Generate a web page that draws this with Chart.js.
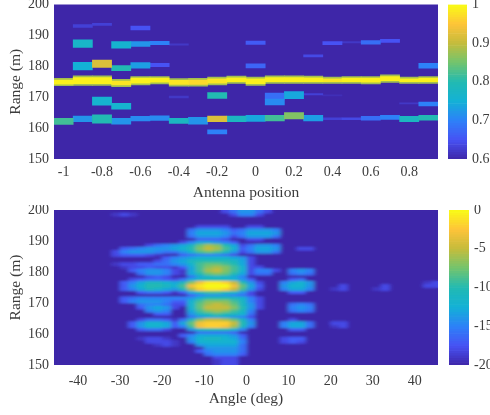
<!DOCTYPE html>
<html>
<head>
<meta charset="utf-8">
<script src="https://cdn.jsdelivr.net/npm/chart.js@4"></script>
<style>
html, body { margin: 0; padding: 0; background: #fff; overflow: hidden; }
#wrap { position: relative; width: 490px; height: 415px; overflow: hidden; }
canvas { position: absolute; filter: blur(0.35px); }
</style>
</head>
<body>
<svg width="0" height="0" style="position:absolute">
  <filter id="smear" x="0" y="0" width="100%" height="100%"><feGaussianBlur stdDeviation="1.9 0.9"/></filter>
</svg>
<div id="wrap">
  <canvas id="topPlot" width="438" height="205" style="left:0;top:0"></canvas>
  <canvas id="topBar" width="42" height="205" style="left:448px;top:0"></canvas>
  <canvas id="bottomPlot" width="438" height="210" style="left:0;top:205px"></canvas>
  <canvas id="bottomBar" width="41" height="210" style="left:449px;top:205px"></canvas>
</div>
<script>
// top panel, one entry per antenna position
const antennaPositions = [-1, -0.9, -0.8, -0.7, -0.6, -0.5, -0.4, -0.3, -0.2, -0.1, 0, 0.1, 0.2, 0.3, 0.4, 0.5, 0.6, 0.7, 0.8, 0.9];
const mainBandLow = [173.7, 173.8, 173.8, 173.4, 174, 174.3, 173.6, 173.6, 174, 174.5, 173.8, 174.5, 174.5, 174.5, 174.5, 174.5, 174.3, 174.8, 174.5, 174.5];
const mainBandHigh = [176.1, 176.9, 176.9, 175.8, 176.7, 176.7, 176, 176.1, 176.5, 176.8, 176.5, 176.9, 176.9, 176.8, 176.5, 176.7, 176.7, 177.2, 176.5, 176.7];
const mainBandValue = [0.99, 0.99, 0.99, 0.98, 0.99, 0.99, 0.98, 0.97, 0.98, 0.99, 0.99, 0.99, 0.99, 0.99, 0.98, 0.99, 0.99, 0.99, 0.99, 0.99];
const lowerBandLow = [161.2, 162.1, 161.6, 161.3, 162.3, 162.5, 161.5, 161.3, 162.1, 162.1, 162.2, 162.3, 163, 162.3, 162.7, 162.7, 162.6, 162.8, 162.1, 162.6];
const lowerBandHigh = [163.2, 163.9, 164.3, 163.2, 163.8, 164, 163.2, 163.5, 163.9, 163.9, 164.1, 164.1, 165, 164.1, 163.3, 163.3, 163.8, 164.1, 163.8, 164.1];
const lowerBandValue = [0.82, 0.72, 0.8, 0.72, 0.71, 0.71, 0.78, 0.72, 0.92, 0.78, 0.74, 0.82, 0.86, 0.73, 0.63, 0.64, 0.68, 0.7, 0.78, 0.8];
// [position, range low, range high, value]
const otherReturns = [
  [-0.9, 192.6, 193.5, 0.63], [-0.9, 186.1, 188.6, 0.77], [-0.9, 178.8, 181.3, 0.75],
  [-0.8, 193.2, 193.9, 0.63], [-0.8, 179.6, 182, 0.92], [-0.8, 167.4, 170, 0.76],
  [-0.7, 185.9, 188, 0.76], [-0.7, 178.6, 180.2, 0.8], [-0.7, 166.1, 168, 0.76],
  [-0.6, 191.8, 193, 0.65], [-0.6, 186.4, 188, 0.72], [-0.6, 179.4, 181.2, 0.73],
  [-0.5, 187, 188.1, 0.7], [-0.5, 179.9, 181, 0.65],
  [-0.4, 186.8, 187.3, 0.62], [-0.4, 169.8, 170.4, 0.62],
  [-0.2, 169.6, 171.5, 0.8], [-0.2, 158.1, 159.4, 0.7],
  [0, 187.1, 188.2, 0.66], [0, 179.5, 180.8, 0.67],
  [0.1, 169.4, 171.3, 0.68], [0.1, 167.5, 169.4, 0.71],
  [0.2, 169.5, 171.8, 0.74],
  [0.3, 183, 183.7, 0.64], [0.3, 170.7, 171.2, 0.63],
  [0.4, 187, 188, 0.65], [0.4, 170.4, 170.8, 0.61],
  [0.5, 187.6, 188, 0.62],
  [0.6, 187.2, 188.3, 0.68],
  [0.7, 187.7, 188.7, 0.65],
  [0.8, 167.8, 168.2, 0.62],
  [0.9, 179.4, 181, 0.7], [0.9, 167.2, 168.4, 0.7]
];
const topXTicks = [-1, -0.8, -0.6, -0.4, -0.2, 0, 0.2, 0.4, 0.6, 0.8];
const rangeTicks = [150, 160, 170, 180, 190, 200];
const topBarTicks = [0.6, 0.7, 0.8, 0.9, 1];

// bottom panel in dB, 2 deg by 1 m bins: [range, [first angle, values...], ...], everything else is -20
const angleRows = [
  [199.5, [-5, -18, -16, -14, -14, -16, -18]],
  [198.5, [-31, -19, -18, -19], [-3, -18, -15, -15, -18]],
  [194.5, [-11, -18, -18, -18, -18], [1, -18, -18]],
  [193.5, [-13, -16, -14, -14, -14, -15, -17], [-1, -16, -14, -14, -14, -15]],
  [192.5, [-13, -15, -13, -13, -13, -14, -16], [-1, -15, -13, -13, -13, -14]],
  [191.5, [-13, -16, -14, -14, -14, -15, -18], [-1, -16, -14, -14, -14, -16]],
  [190.5, [-11, -17, -17, -17, -18], [1, -18, -18]],
  [189.5, [-15, -18, -15, -13, -13, -14, -15, -17]],
  [188.5, [-23, -18, -16, -15, -14, -13, -11, -8, -6, -7, -10, -13, -18], [1, -16, -14, -14, -15]],
  [187.5, [-29, -17, -16, -15, -14, -14, -14, -13, -12, -10, -7, -5, -6, -9, -12, -17], [1, -15, -13, -13, -14], [13, -18, -18]],
  [186.5, [-31, -18, -15, -14, -14, -14, -15, -16, -16, -14, -12, -9, -8, -9, -11, -14, -18], [1, -16, -14, -14, -16]],
  [185.5, [-31, -18, -17, -17, -17, -18, -19], [-15, -17, -16, -15, -15, -15, -16, -18]],
  [184.5, [-19, -17, -15, -14, -13, -12, -12, -12, -12, -13, -14, -18]],
  [183.5, [-21, -18, -16, -14, -13, -11, -10, -10, -10, -10, -11, -13, -18]],
  [182.5, [-31, -19, -18, -18, -17, -17, -16, -16, -15, -14, -12, -9, -8, -8, -9, -10, -13, -18]],
  [181.5, [-29, -19, -18, -18, -17, -18, -18, -19], [-15, -17, -13, -9, -7, -6, -7, -9, -12, -18, -18]],
  [180.5, [-27, -17, -15, -14, -14, -15, -18], [-15, -19, -13, -9, -6, -5, -7, -9, -12, -18, -15, -15, -18], [11, -15, -14, -15]],
  [179.5, [-25, -16, -14, -14, -15, -18], [-15, -19, -13, -10, -8, -7, -8, -10, -13, -18, -16, -16], [11, -16, -15, -16]],
  [178.5, [-23, -18, -17, -18], [-13, -16, -13, -12, -12, -12, -13, -15]],
  [177.5, [-27, -18, -17, -16, -16, -17], [-17, -18, -16, -13, -11, -10, -10, -11, -12, -14, -17], [11, -17, -16]],
  [176.5, [-29, -17, -15, -13, -11, -11, -12, -13, -11, -7, -3, -1, -1, -2, -5, -10, -14, -18], [9, -15, -13, -12, -14], [43, -19, -18]],
  [175.5, [-29, -17, -14, -12, -10, -10, -11, -12, -9, -3, -1, 0, 0, 0, -3, -8, -13, -17], [9, -14, -12, -12, -14], [23, -18], [33, -18], [43, -18, -18]],
  [174.5, [-29, -17, -15, -13, -11, -12, -13, -14, -11, -6, -2, -1, -1, -2, -5, -9, -14, -18], [9, -15, -13, -13, -15], [21, -19, -18], [31, -19, -18]],
  [173.5, [-25, -17, -16, -16, -17, -19, -17, -13, -10, -9, -9, -10, -11, -14, -18], [11, -17, -17]],
  [172.5, [-13, -17, -15, -14, -14, -14, -15, -16, -18]],
  [171.5, [-29, -17, -16, -15, -15, -15, -15, -15, -15, -14, -12, -10, -10, -10, -11, -12, -15, -18]],
  [170.5, [-29, -17, -15, -14, -14, -14, -15, -17, -17, -12, -9, -7, -7, -7, -9, -11, -15, -18]],
  [169.5, [-25, -16, -15, -15, -16, -18, -18, -12, -8, -6, -5, -6, -8, -11, -14, -18], [11, -16, -15, -16]],
  [168.5, [-25, -17, -14, -13, -14, -18], [-13, -12, -8, -5, -5, -5, -7, -10, -14, -18], [11, -15, -14, -15]],
  [167.5, [-23, -15, -14, -15], [-13, -13, -9, -7, -6, -7, -9, -11, -15], [11, -16, -15, -16]],
  [166.5, [-21, -17, -17], [-13, -14, -11, -10, -9, -10, -11, -12, -16]],
  [165.5, [-13, -16, -14, -13, -13, -13, -14, -15, -18]],
  [164.5, [-25, -18, -16, -16, -17, -19, -16, -11, -7, -5, -5, -6, -8, -11, -15], [11, -18]],
  [163.5, [-27, -17, -14, -12, -12, -13, -17, -13, -8, -3, -2, -2, -2, -5, -10, -14], [9, -15, -13, -13, -16], [21, -18, -18]],
  [162.5, [-27, -17, -14, -12, -12, -13, -17, -15, -9, -3, -2, -2, -3, -6, -11, -15], [9, -15, -13, -13, -16], [21, -19, -18]],
  [161.5, [-25, -17, -16, -16, -18], [-13, -14, -11, -10, -10, -10, -12, -15], [11, -17, -17]],
  [160.5, [-11, -16, -16, -16, -16, -17]],
  [159.5, [-15, -17, -15, -13, -13, -13, -13, -14, -17]],
  [158.5, [-25, -19, -18, -18, -19], [-13, -14, -12, -11, -11, -12, -13, -16], [9, -18, -17, -17]],
  [157.5, [-23, -18, -18, -18, -19], [-13, -15, -12, -12, -12, -12, -12, -15], [9, -18, -17, -18]],
  [156.5, [-21, -19, -18, -19], [-11, -14, -13, -13, -13, -13, -16]],
  [155.5, [-9, -14, -14, -14, -14, -16]],
  [154.5, [-11, -17, -15, -14, -14, -14, -16]],
  [153.5, [-9, -16, -15, -15, -15, -17]],
  [152.5, [-7, -18, -18, -18]],
  [151.5, [-7, -19, -18, -18]],
  [150.5, [-7, -19, -18, -18]]
];
const bottomXTicks = [-40, -30, -20, -10, 0, 10, 20, 30, 40];
const bottomBarTicks = [-20, -15, -10, -5, 0];

const parulaStops = [[62, 38, 168], [71, 82, 244], [45, 129, 248], [19, 177, 214], [34, 186, 178], [114, 196, 110], [196, 188, 60], [254, 195, 57], [249, 251, 21]];

function parula(t) {
  t = Math.max(0, Math.min(1, t)) * (parulaStops.length - 1);
  const i = Math.min(Math.floor(t), parulaStops.length - 2);
  const f = t - i;
  const c = parulaStops[i].map((v, k) => Math.round(v + (parulaStops[i + 1][k] - v) * f));
  return 'rgb(' + c.join(',') + ')';
}

const TEXT = '#3c3c3c';
const FONT = { family: '"Liberation Serif", serif', size: 14 };

// paints the low end of the colormap behind the bars, then softens them like the scanned figure
const heatPlugin = {
  id: 'heat',
  beforeDatasetsDraw(chart) {
    const a = chart.chartArea;
    chart.ctx.fillStyle = parula(0);
    chart.ctx.fillRect(a.left, a.top, a.right - a.left, a.bottom - a.top);
  },
  afterDatasetsDraw(chart, args, opts) {
    const a = chart.chartArea, ctx = chart.ctx;
    const w = a.right - a.left, h = a.bottom - a.top;
    ctx.save();
    ctx.beginPath();
    ctx.rect(a.left, a.top, w, h);
    ctx.clip();
    ctx.filter = opts.filter;
    ctx.drawImage(chart.canvas, a.left, a.top, w, h, a.left, a.top, w, h);
    ctx.restore();
  }
};

function heatChart(id, cells, lo, hi, xMin, xMax, xTicks, xTitle, pad, bottomH, tickPad, titleBottom, filter) {
  cells.sort((a, b) => a.v - b.v);
  return new Chart(document.getElementById(id), {
    type: 'bar',
    data: {
      datasets: [{
        data: cells.map(c => ({ x: c.x, y: [c.lo, c.hi] })),
        backgroundColor: cells.map(c => parula((c.v - lo) / (hi - lo))),
        barPercentage: 1,
        categoryPercentage: 1,
        borderWidth: 0
      }]
    },
    plugins: [heatPlugin],
    options: {
      responsive: false,
      animation: false,
      devicePixelRatio: 1,
      layout: { padding: { top: pad, left: 0, right: 0, bottom: 0 } },
      plugins: { legend: { display: false }, tooltip: { enabled: false }, heat: { filter: filter } },
      scales: {
        x: {
          type: 'linear', min: xMin, max: xMax, offset: false,
          grid: { display: false, drawTicks: false }, border: { display: false },
          afterBuildTicks: s => { s.ticks = xTicks.map(v => ({ value: v })); },
          afterFit: s => { s.height = bottomH; s.paddingLeft = 0; s.paddingRight = 0; },
          ticks: { color: TEXT, font: FONT, padding: tickPad, maxRotation: 0, autoSkip: false, callback: v => String(v) },
          title: { display: true, text: xTitle, color: TEXT, font: { family: FONT.family, size: 15.5 }, padding: { top: 0, bottom: titleBottom } }
        },
        y: {
          type: 'linear', min: 150, max: 200,
          grid: { display: false, drawTicks: false }, border: { display: false },
          afterBuildTicks: s => { s.ticks = rangeTicks.map(v => ({ value: v })); },
          afterFit: s => { s.width = 54; s.paddingTop = 0; s.paddingBottom = 0; },
          ticks: { color: TEXT, font: FONT, padding: 5, autoSkip: false, callback: v => String(v) },
          title: { display: true, text: 'Range (m)', color: TEXT, font: { family: FONT.family, size: 15.5 }, padding: { top: 7, bottom: 0 } }
        }
      }
    }
  });
}

function colorBar(id, lo, hi, ticks, pad, barW, canvasW) {
  const levels = Array.from({ length: 64 }, (_, i) => i);
  const step = (hi - lo) / 64;
  return new Chart(document.getElementById(id), {
    type: 'bar',
    data: {
      labels: ['scale'],
      datasets: [{
        data: levels.map(i => ({ x: 'scale', y: [lo + i * step, lo + (i + 1) * step] })),
        backgroundColor: levels.map(i => parula((i + 0.5) / 64)),
        barPercentage: 1,
        categoryPercentage: 1,
        borderWidth: 0
      }]
    },
    options: {
      responsive: false,
      animation: false,
      devicePixelRatio: 1,
      layout: { padding: { top: pad, left: 0, right: 0, bottom: 0 } },
      plugins: { legend: { display: false }, tooltip: { enabled: false } },
      scales: {
        x: { display: true, grid: { display: false, drawTicks: false }, border: { display: false }, ticks: { display: false },
          afterFit: s => { s.height = pad === 4.5 ? 46 : 50; s.paddingLeft = 0; s.paddingRight = 0; } },
        y: {
          type: 'linear', position: 'right', min: lo, max: hi,
          grid: { display: false, drawTicks: false }, border: { display: false },
          afterBuildTicks: s => { s.ticks = ticks.map(v => ({ value: v })); },
          afterFit: s => { s.width = canvasW - barW; s.paddingTop = 0; s.paddingBottom = 0; },
          ticks: { color: TEXT, font: FONT, padding: 5, autoSkip: false, callback: v => String(v) }
        }
      }
    }
  });
}

const topCells = [];
antennaPositions.forEach((x, i) => {
  // yellow core with a greener rim around it
  topCells.push({ x: x, lo: mainBandLow[i], hi: mainBandHigh[i], v: 0.88 });
  topCells.push({ x: x, lo: mainBandLow[i] + 0.55, hi: mainBandHigh[i] - 0.55, v: mainBandValue[i] });
  topCells.push({ x: x, lo: lowerBandLow[i], hi: lowerBandHigh[i], v: lowerBandValue[i] });
});
otherReturns.forEach(r => topCells.push({ x: r[0], lo: r[1], hi: r[2], v: r[3] }));

const bottomCells = [];
angleRows.forEach(row => {
  row.slice(1).forEach(run => {
    run.slice(1).forEach((v, k) => {
      bottomCells.push({ x: run[0] + 2 * k, lo: row[0] - 0.5, hi: row[0] + 0.5, v: v });
    });
  });
});

heatChart('topPlot', topCells, 0.6, 1, -1.05, 0.95, topXTicks, 'Antenna position', 4.5, 46, 5, 3, 'blur(0.7px)');
colorBar('topBar', 0.6, 1, topBarTicks, 4.5, 19, 42);
heatChart('bottomPlot', bottomCells, -20, 0, -45.7, 45.5, bottomXTicks, 'Angle (deg)', 5, 50, 8, 7, 'url(#smear)');
colorBar('bottomBar', -20, 0, bottomBarTicks, 5, 20, 41);
</script>
</body>
</html>
